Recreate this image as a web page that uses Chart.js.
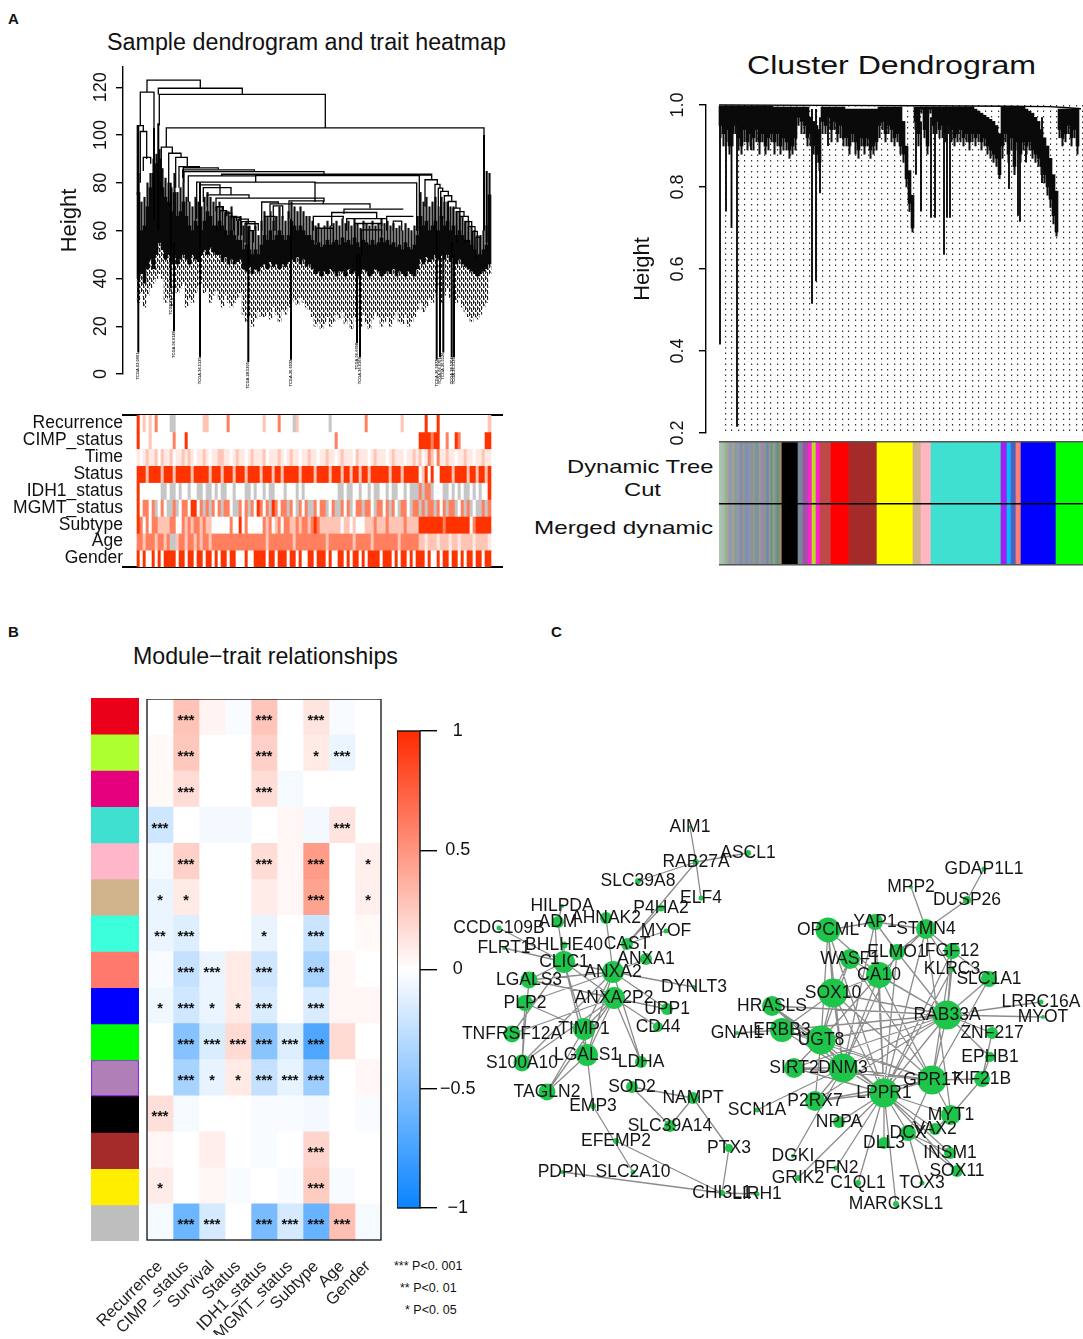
<!DOCTYPE html>
<html>
<head>
<meta charset="utf-8">
<title>WGCNA figure</title>
<script src="https://cdn.jsdelivr.net/npm/chart.js@4/dist/chart.umd.min.js"></script>
<style>
body{margin:0;background:#fff;font-family:"Liberation Sans",Arial,sans-serif;color:#111}
#page{position:relative;width:1083px;height:1339px;overflow:hidden}
canvas{position:absolute}
.t{position:absolute;white-space:nowrap;transform-origin:0 50%;line-height:1}
.letter{font-weight:bold;font-size:15px}
.wide{transform:scaleX(1.25)}
.p{font-size:12.5px}
</style>
</head>
<body>
<div id="page">
<div class="t letter" style="left:8px;top:11px">A</div>
<div class="t letter" style="left:8px;top:624px">B</div>
<div class="t letter" style="left:551px;top:624px">C</div>
<div class="t" style="left:107px;top:31px;font-size:23.3px">Sample dendrogram and trait heatmap</div>
<div class="t" style="left:747px;top:52px;font-size:26px;transform:scaleX(1.235)">Cluster Dendrogram</div>
<div class="t wide" style="left:567px;top:457px;font-size:19px">Dynamic Tree</div>
<div class="t wide" style="left:624px;top:480px;font-size:19px">Cut</div>
<div class="t" style="left:534px;top:518px;font-size:19px;transform:scaleX(1.275)">Merged dynamic</div>
<div class="t" style="left:133px;top:645px;font-size:23.2px">Module−trait relationships</div>
<div class="t p" style="left:394px;top:1260px">*** P&lt;0. 001</div>
<div class="t p" style="left:400px;top:1282px">** P&lt;0. 01</div>
<div class="t p" style="left:405px;top:1304px">* P&lt;0. 05</div>

<canvas id="sampleTree" width="446" height="342" style="left:57px;top:60px"></canvas>
<canvas id="traitStrip" width="503" height="156" style="left:0;top:413px"></canvas>
<canvas id="geneTree" width="453" height="365" style="left:630px;top:85px"></canvas>
<canvas id="geneColors" width="364" height="127" style="left:719px;top:440px"></canvas>
<canvas id="moduleColors" width="48" height="543" style="left:91px;top:698px"></canvas>
<canvas id="moduleHeat" width="385" height="636" style="left:0;top:699px"></canvas>
<canvas id="colorBar" width="113" height="501" style="left:397px;top:719px"></canvas>
<canvas id="network" width="633" height="430" style="left:450px;top:800px"></canvas>
</div>

<script>
// ---- panel A left: sample dendrogram, heights, x in leaf positions
var denseCrown=[84,72,74,80,84,90,92,94,86,82,80,78,84,76,78,80,74,72,70,74,72,70,74,76,74,72,70,72,70,68,68,70,66,64,66,62,64,62,60,62,58,64,68,66,68,64,66,70,66,64,68,72,70,68,70,68,66,66,64,62,63,61,62,64,62,63,64,62,65,63,64,62,65,63,61,64,63,62,64,62,63,65,63,64,62,63,61,62,60,63,61,60,62,66,76,72,74,70,72,74,70,74,72,72,70,70,68,68,66,64,64,62,60,58,58,60,62,84];
var denseTop=[76,60,62,70,78,84,88,90,78,74,72,68,76,66,68,72,66,62,60,64,62,60,64,68,66,62,62,64,62,60,58,60,58,56,56,52,54,52,50,52,50,54,58,56,60,56,58,60,58,56,58,64,62,60,62,60,58,58,56,54,55,53,54,56,54,55,56,54,57,55,56,54,57,55,53,56,55,54,56,54,55,57,55,56,54,55,53,54,52,55,53,52,54,58,66,62,64,60,62,64,60,66,62,64,60,62,58,60,58,56,56,54,52,50,50,52,54,75];
var denseBottom=[40,42,38,44,48,44,50,55,52,48,50,46,50,46,48,50,48,46,50,48,47,50,52,50,53,51,50,50,47,49,46,48,46,47,48,44,43,45,42,44,43,45,46,44,47,45,46,44,46,45,47,48,47,49,46,48,45,46,44,42,43,41,43,42,44,43,41,43,43,41,44,42,43,41,42,44,43,41,42,44,43,41,42,43,42,44,41,43,42,41,43,42,41,44,48,46,49,47,48,50,48,50,48,50,47,49,46,48,46,45,44,43,42,41,42,43,44,46];
var leafBottom=[30,34,28,33,36,38,40,42,40,30,32,28,36,34,36,38,28,32,30,34,36,38,34,36,30,33,35,31,28,33,30,28,30,32,34,25,22,24,20,23,26,24,24,26,23,28,25,22,27,25,28,30,31,29,32,30,28,27,24,20,22,19,21,24,20,22,25,23,26,21,23,19,24,22,20,25,21,19,23,26,24,20,22,24,20,23,26,22,21,25,20,22,24,27,30,26,28,32,30,34,36,30,33,36,32,34,30,32,28,26,24,22,24,23,25,28,30,42];

var mergeLeft =[10,3.3,21.3,22.3,29.3,24.3,31.7,38.7,0.3,3.3,6.3,42,46.3,45.7,47,84.7,51.3,118.7,59.7,178,63,66.3,70.3,79,133,152,124.7,136.3,207,176.3,194.7,209.7,249.7,218,224.7,179.7,256.3,282.3,288,298,301.3,303.7,307.3,311.3,316.3,319.7,323,328,331.3,335.7,339,79.7,83,88,93,96.3,101.3,104.7,108,111.3,128];
var mergeRight=[63.3,17,105.3,188.3,347,35.3,44,50.3,6.3,9.7,13.7,62.3,81.3,117.3,187,294.7,118.7,282.3,178,279.7,83,94,112,187,233,186.3,141.3,145.7,266.3,206.3,239.7,249.7,276.3,244.7,244.7,196.3,264.7,294.7,300.3,303,305.7,311.3,314.7,319,323,327,331.3,334.7,338,340.3,343,86.3,89.7,94.7,99.7,103,111.3,118,121.3,116.3,138];
var mergeHeight=[123,118,119.6,117,103,95,92.4,90.7,104,101.5,90.7,86.8,86.3,85.4,84.7,83.6,82.9,83,80.3,80,79.2,78,75,73.6,71.2,72.5,72,70.4,69,66,67.6,65,66,63,60.3,61,64,83.3,81.3,79.4,77.8,76.4,74.6,72.2,69.4,68,66,63.8,61.7,59.7,57.3,70,68.4,67.3,66,65.6,64.8,63.8,62.9,60,66];
var mergeLowLeft =[118,104,117,104,95,75,70,78,75,80,85,78,80,82,80,83,72,80,65,72,70,72,70,68,68,65,60,60,67,60,62,60,60,55,50,55,60,65,70,60,70,65,65,60,60,55,60,55,55,52,48,60,60,58,58,60,58,58,55,55,58];
var mergeLowRight=[119.6,103,117,103,88,92.4,90.7,86.8,101.5,90,88,86.3,85.8,85,83.6,83,80.6,60,80,60,75,75,73.6,72,69.4,71.5,71,65,69,65,65,60,66,62,58,55,60,81,79,78,76.5,74.7,72,69.5,68,66,63.8,61.7,59.7,57,50,68,66,65,64,64,63,60,60,55,60];

var pendantLeaf  =[1.3,17,21.3,33.7,37,63,111.3,154,220,223,299.7,303,306.3,314.7,317,347,349.7];
var pendantTop   =[104,103,105,80,55,80,62,65,50,50,60,50,50,55,50,100,85];
var pendantBottom=[9,65,60,36,18,7,5,6,13,7,6,7,9,7,7,60,55];
var pendantNames =["TCGA.02.0001","","","TCGA.26.5132","TCGA.06.0189","TCGA.26.5135","TCGA.28.5205","TCGA.26.6032","TCGA.06.6698","TCGA.26.6169","TCGA.26.5872","TCGA.06.6701","TCGA.26.5126","TCGA.28.5204","TCGA.26.5136","",""];

// ---- panel A left: trait rows, 0 white ... 4 red, 5 grey (missing)
var traitNames=["Recurrence","CIMP_status","Time","Status","IDH1_status","MGMT_status","Subtype","Age","Gender"];
var recurrenceRow=[4,0,2,0,2,0,3,0,0,0,0,5,5,0,0,0,0,0,0,0,0,0,2,2,0,0,0,0,0,0,3,0,0,0,0,0,0,0,0,0,0,0,2,0,0,0,0,3,0,0,0,0,5,2,0,0,0,0,0,0,0,0,0,0,5,0,0,0,0,0,0,0,0,0,0,0,3,0,0,0,0,0,0,0,0,0,0,0,2,0,0,0,0,0,0,0,4,0,0,0,4,0,0,0,0,0,0,0,0,0,0,0,0,0,0,0,0,2];
var cimpRow=[4,0,0,0,2,0,0,0,0,0,0,0,3,0,0,0,4,0,0,0,0,0,0,0,0,0,0,0,0,0,0,0,0,0,0,0,0,0,0,0,0,0,0,0,0,0,0,0,0,0,0,0,0,0,0,0,0,0,0,0,0,0,0,0,0,0,3,0,0,0,0,0,0,0,0,0,0,0,0,0,0,0,0,0,0,0,0,0,0,0,0,0,0,0,4,4,4,4,3,4,4,0,0,3,0,0,4,3,0,0,0,0,0,0,0,0,4,4];
var timeRow=[1,0,1,2,1,1,2,0,2,1,1,2,0,1,1,2,1,2,1,0,1,1,2,1,0,1,1,2,2,1,1,0,1,2,1,1,0,1,2,1,1,1,2,0,1,1,1,2,1,0,1,2,1,1,0,1,1,2,1,1,0,1,1,2,1,1,0,1,2,1,1,1,0,2,1,1,1,0,1,2,1,1,1,0,1,2,1,1,1,0,1,1,2,1,2,0,1,3,2,0,3,1,1,2,1,1,0,1,1,2,1,1,0,1,1,2,1,1];
var statusRow=[4,4,4,2,4,4,4,4,2,4,4,4,2,4,4,4,4,4,2,4,4,4,4,4,2,4,4,4,2,4,4,4,2,4,4,4,2,4,4,4,4,2,4,4,4,2,4,4,2,4,4,4,4,4,2,4,4,4,4,2,4,4,4,4,2,4,4,4,2,4,4,2,4,4,2,4,4,2,4,4,4,4,4,4,2,4,4,4,2,4,4,4,4,4,0,2,4,0,4,0,0,4,4,4,4,2,4,4,4,4,2,4,4,2,4,4,2,4];
var idhRow=[4,0,0,0,0,0,0,0,5,5,0,5,5,0,5,0,0,5,0,0,5,5,0,5,5,0,5,0,5,5,0,0,5,0,0,0,5,5,0,5,0,0,5,0,5,5,0,0,0,5,0,0,0,5,0,5,0,0,0,0,0,0,0,0,0,0,0,5,5,0,5,5,0,0,5,0,0,5,0,5,5,0,0,5,0,5,5,0,0,5,0,5,5,5,3,5,3,3,5,0,0,0,5,5,0,5,0,5,0,5,5,0,5,0,5,0,0,4];
var mgmtRow=[4,0,3,3,0,3,5,0,3,0,5,5,3,5,0,3,3,0,4,4,0,3,5,3,5,3,0,3,5,3,3,0,5,5,3,0,3,5,3,0,4,3,0,3,5,4,3,0,3,3,5,3,0,5,3,0,3,5,5,3,0,3,3,5,0,3,5,5,3,0,3,5,0,3,3,5,3,3,0,5,3,3,0,3,5,3,0,5,3,3,0,5,3,3,5,3,5,3,3,5,3,0,3,5,3,3,5,0,3,5,3,5,0,5,5,3,5,3];
var subtypeRow=[4,3,0,3,0,3,3,2,2,2,2,3,3,0,0,3,2,3,2,3,3,2,3,2,2,0,0,0,0,0,0,3,0,0,4,0,3,0,0,0,0,0,3,2,3,0,2,3,0,3,3,2,2,3,2,3,3,2,3,4,3,2,2,2,2,2,2,2,0,2,2,0,2,0,0,0,2,2,2,3,2,2,2,3,2,2,2,2,2,3,2,2,2,2,4,4,4,4,4,4,4,4,3,4,4,4,4,4,4,4,4,0,3,4,4,4,4,4];
var ageRow=[3,3,2,3,3,3,2,3,3,2,3,5,5,2,3,3,2,3,3,2,3,2,3,3,2,3,3,3,3,3,3,3,3,3,3,3,3,3,3,3,3,3,3,2,3,3,3,3,3,3,3,3,2,3,3,3,3,3,3,3,3,3,3,2,3,3,3,3,3,3,3,3,2,3,3,3,3,3,2,3,3,3,3,3,3,3,3,2,3,3,3,3,3,3,2,2,1,2,2,2,1,2,2,2,1,2,2,1,2,2,2,2,1,2,2,2,2,1];
var genderRow=[4,0,4,0,0,4,0,4,0,4,4,4,4,0,4,4,0,4,4,0,4,4,0,4,4,0,4,0,4,4,0,4,4,0,0,0,4,0,0,4,4,4,4,0,4,4,0,4,4,4,0,4,4,0,4,0,0,4,4,0,4,4,4,0,4,0,0,4,4,0,4,0,4,4,0,4,0,4,4,4,4,0,4,4,4,0,4,0,4,4,0,4,0,4,4,4,0,4,0,0,4,0,4,4,0,4,4,0,4,0,4,4,0,4,4,0,4,4];
var levelColors=["#ffffff","#ffe9e2","#ffc4b4","#ff7f5e","#ff3300","#c6c6c6"];

// ---- panel A right: gene dendrogram
var bandTop=[.997,.997,.997,.997,.997,.997,.997,.997,.997,.997,.997,.997,.997,.997,.997,.997,.997,.997,.995,.995,.995,.995,.995,.995,.995,.995,.995,.995,.995,.995,.97,.96,.95,.94,.995,.995,.995,.995,.995,.995,.995,.995,.99,.99,.99,.99,.99,.99,.99,.99,.99,.99,.99,.995,.995,.995,.995,.995,.995,.995,.995,.96,.90,.84,.78,.995,.995,.995,.995,.995,.995,.995,.995,.995,.995,.995,.995,.995,.995,.995,.995,.995,.995,.995,.995,.99,.985,.98,.975,.97,.965,.96,.95,.93,.995,.995,.995,.995,.995,.995,.995,.995,.99,.985,.98,.97,.96,.94,.92,.90,.87,.83,.79,.99,.99,.99,.99,.99,.99,.99];
var bandBottom=[.95,.93,.94,.90,.93,.95,.92,.90,.94,.91,.93,.92,.94,.91,.93,.90,.92,.93,.91,.93,.90,.92,.91,.89,.90,.92,.97,.96,.95,.92,.93,.90,.88,.86,.96,.95,.97,.94,.96,.93,.95,.92,.92,.90,.93,.91,.89,.92,.90,.92,.89,.90,.91,.95,.96,.93,.95,.94,.92,.93,.90,.88,.82,.76,.70,.96,.93,.99,.94,.90,.99,.95,.96,.94,.95,.93,.95,.94,.92,.93,.94,.92,.93,.91,.93,.92,.93,.91,.92,.90,.89,.88,.87,.83,.90,.93,.88,.92,.85,.91,.88,.91,.90,.91,.89,.88,.87,.85,.83,.80,.77,.73,.69,.94,.92,.93,.95,.92,.94,.90];
var bandFringe=[.92,.90,.91,.88,.90,.93,.89,.88,.91,.89,.90,.89,.91,.88,.91,.88,.89,.91,.88,.90,.88,.89,.89,.87,.88,.89,.95,.93,.93,.90,.90,.88,.86,.84,.93,.93,.94,.91,.94,.91,.92,.90,.90,.88,.91,.88,.87,.90,.88,.90,.87,.88,.89,.92,.94,.91,.93,.91,.90,.91,.88,.86,.80,.74,.69,.94,.90,.98,.92,.88,.98,.93,.93,.92,.92,.91,.93,.91,.90,.91,.91,.90,.91,.89,.91,.90,.91,.89,.90,.88,.87,.86,.85,.82,.87,.91,.86,.89,.83,.89,.86,.89,.88,.89,.87,.86,.85,.83,.81,.78,.75,.71,.68,.92,.90,.91,.93,.90,.92,.88];
var dropGene=[1,7,12.5,18,32,93,97,101,109,202,212,197,216,225,228,231,290,299,301,307,323];
var dropTop =[.99,.97,.97,.97,.95,.99,.99,.97,.97,.96,.97,.97,.97,.97,.97,.97,.97,.97,.97,.97,.97];
var dropLow =[.416,.74,.70,.215,.89,.515,.57,.785,.90,.74,.725,.83,.725,.635,.725,.725,.795,.73,.715,.86,.81];
var topGene  =[0,110,200,290,330,345,362];
var topHeight=[1,.999,.998,.997,.996,.994,.991];

// ---- panel A right: module colour strips (edges in gene order)
var rowNames=["Dynamic Tree Cut","Merged dynamic"];
var stripEdges=[0,2,4,6,8,10,12,14,16,18,20,22,24,26,28,30,32,34,36,38,40,42,44,46,48,50,52,54,56,58,60,63,79,84,89,93,97,101,112,130,158,194,202,212,282,288,292,297,302,337,364];
var stripColors=["#b4c2ae","#9cc4ba","#b8b6a2","#84bc96","#aca390","#9c93b4","#84a4b4","#a4a484","#93939f","#84a4a4","#9e84b4","#7494a4","#a49484","#7494b4","#9384c4","#74a494","#a4849f","#84a484","#8c8ca8","#6c98a8","#a49c7c","#8890b8","#a884a8","#7c9c8c","#6c88b0","#9c90a0","#58a070","#a89880","#7c90a8","#4c9c78","#a08868","#000000","#778899","#a050a8","#ff20d0","#b4e020","#ff20d0","#c04848","#ff0000","#a52a2a","#ffff00","#d2b48c","#ffb6c1","#40e0d0","#a020f0","#00bfff","#5060c0","#fa8072","#0000ff","#00ff00"];

// ---- panel B: module-trait correlations, rows top to bottom
var moduleNames=["red","greenyellow","magenta","turquoise","pink","tan","cyan","salmon","blue","green","purple","black","brown","yellow","grey"];
var moduleFill=["#ea0018","#adff2f","#e6007e","#40e0d0","#ffb6c8","#d2b48c","#3cffdc","#ff7a6c","#0000ff","#00ff00","#b07fb8","#000000","#a52a2a","#ffee00","#bebebe"];
var heatTraits=["Recurrence","CIMP_status","Survival","Status","IDH1_status","MGMT_status","Subtype","Age","Gender"];
var recurrenceCorr=[0,.03,.03,-.2,-.04,-.08,-.08,-.03,-.06,0,0,.15,.04,.09,-.04];
var cimpCorr=[.28,.26,.16,0,.22,.1,-.14,-.24,-.19,-.5,-.36,-.04,0,0,-.6];
var survivalCorr=[.05,0,0,-.05,0,0,0,-.08,-.08,-.15,-.1,0,.08,.04,-.17];
var statusCorr=[-.03,0,0,-.05,0,0,0,.1,.1,.17,.1,0,0,-.03,0];
var idhCorr=[.27,.22,.16,0,.16,.09,-.09,-.2,-.15,-.48,-.24,-.03,-.03,0,-.55];
var mgmtCorr=[0,0,-.04,.04,.04,.04,0,0,0,-.14,-.1,-.03,0,-.03,-.17];
var subtypeCorr=[.12,.1,0,-.05,.47,.43,-.22,-.35,-.16,-.72,-.4,-.05,.2,.24,-.62];
var ageCorr=[-.03,-.08,0,.13,0,0,0,.04,.04,.17,0,0,0,-.03,.3];
var genderCorr=[0,0,0,0,.07,.07,.03,0,.04,0,.04,-.03,0,0,-.04];
var recurrenceStars=["","","","***","","*","**","","*","","","***","","*",""];
var cimpStars=["***","***","***","","***","*","***","***","***","***","***","","","","***"];
var survivalStars=["","","","","","","","***","*","***","*","","","","***"];
var statusStars=["","","","","","","","","*","***","*","","","",""];
var idhStars=["***","***","***","","***","","*","***","***","***","***","","","","***"];
var mgmtStars=["","","","","","","","","","***","***","","","","***"];
var subtypeStars=["***","*","","","***","***","***","***","***","***","***","","***","***","***"];
var ageStars=["","***","","***","","","","","","","","","","","***"];
var genderStars=["","","","","*","*","","","","","","","","",""];
var barTicks=[-1,-.5,0,.5,1];

// ---- panel C: co-expression network, layout coordinates
var nodeNames=["AIM1","RAB27A","ASCL1","SLC39A8","ELF4","P4HA2","HILPDA","ADM","AHNAK2","MYOF","CCDC109B","FLRT1","BHLHE40","CAST","ANXA1","CLIC1","ANXA2","LGALS3","DYNLT3","ANXA2P2","PLP2","UPP1","CD44","TNFRSF12A","TIMP1","LGALS1","S100A10","LDHA","TAGLN2","EMP3","SOD2","NAMPT","SLC39A14","EFEMP2","PTX3","PDPN","SLC2A10","CHI3L1","LIRH1",
"GDAP1L1","MPP2","DUSP26","YAP1","OPCML","STMN4","WASF1","ELMO1","FGF12","CA10","KLRC3","SLC1A1","SOX10","HRASLS","LRRC16A","RAB33A","MYOT","GNAI1","ERBB3","ZNF217","UGT8","EPHB1","SIRT2","DNM3","GPR17","KIF21B","LPPR1","P2RX7","SCN1A","NPPA","MYT1","VAX2","DCX","DLL3","INSM1","DGKI","PFN2","SOX11","GRIK2","C1QL1","TOX3","MARCKSL1"];
var nodeX=[690,696,748,638,701,661,562,558,606,666,499,504,564,627,646,564,613,529,694,614,525,667,658,512,584,587,522,641,547,593,632,693,670,616,729,562,633,722,757,
984,911,967,875,828,926,850,897,952,879,952,989,833,772,1041,947,1043,737,782,992,821,990,794,843,932,982,884,815,757,839,951,935,908,884,950,793,836,957,798,858,922,896];
var nodeY=[827,862,853,881,898,908,906,922,918,931,928,948,945,944,959,962,972,980,987,998,1003,1009,1027,1034,1029,1055,1063,1062,1092,1106,1087,1098,1126,1141,1148,1172,1172,1193,1194,
869,887,900,922,930,929,959,952,951,975,969,979,993,1006,1002,1015,1017,1033,1030,1033,1040,1057,1068,1068,1080,1079,1093,1101,1110,1122,1115,1129,1133,1143,1153,1156,1168,1171,1178,1183,1183,1204];
var nodeSize=[1.5,3,3,3,2.5,3.5,2,6,6,2.5,2.5,2,3.5,6,6,11,11,8.5,2,11,8,6,5,8.5,11,11,8.5,6,8.5,3,6,6,6,3,4,2,2.5,3,2.5,
2.5,2,4,8,12.5,10,10,8,8,13,3,8,14.5,10,2.5,14.5,2,2,12,6,14.5,5,10,14.5,14.5,8,14.5,10,2.5,6,10,6,8,6,6,2,2.5,6,3,3,2.5,3];
var edgeFrom=["AIM1","RAB27A","RAB27A","RAB27A","RAB27A","P4HA2","MYOF","CAST","AHNAK2","ADM","HILPDA","CCDC109B","FLRT1","BHLHE40","CLIC1","CLIC1","CLIC1","CLIC1","CLIC1","CLIC1","LGALS3","LGALS3","LGALS3","PLP2","PLP2","PLP2","TNFRSF12A","TIMP1","TIMP1","LGALS1","LGALS1","LGALS1","S100A10","S100A10","TAGLN2","TAGLN2","TAGLN2","ANXA1","ANXA2","ANXA2","ANXA2P2","ANXA2P2","ANXA2P2","ANXA2","EMP3","EMP3","EFEMP2","PDPN","SOD2","SOD2","SLC39A14","NAMPT","PTX3","CHI3L1",
"MPP2","GDAP1L1","DUSP26","YAP1","OPCML","YAP1","STMN4","STMN4","STMN4","STMN4","FGF12","FGF12","ELMO1","WASF1","KLRC3","SLC1A1","SLC1A1","LRRC16A","MYOT","ZNF217","EPHB1","EPHB1","KIF21B","OPCML","OPCML","OPCML","OPCML","OPCML","WASF1","WASF1","WASF1","CA10","CA10","CA10","CA10","CA10","CA10","SOX10","SOX10","SOX10","SOX10","SOX10","SOX10","HRASLS","HRASLS","HRASLS","HRASLS","ERBB3","ERBB3","ERBB3","ERBB3","ERBB3","GNAI1","UGT8","UGT8","UGT8","UGT8","UGT8","UGT8","SIRT2","SIRT2","SIRT2","DNM3","DNM3","DNM3","DNM3","DNM3","RAB33A","RAB33A","GPR17","GPR17","GPR17","P2RX7","NPPA","DGKI","PFN2","GRIK2","C1QL1","DLL3","MARCKSL1","DCX","TOX3","VAX2","VAX2","MYT1","MYT1","INSM1","INSM1","SOX11","SOX11","YAP1","ELMO1","ELMO1","FGF12","FGF12","KLRC3","STMN4","STMN4","ZNF217","P2RX7","SIRT2","P2RX7","YAP1"];
var edgeTo=["RAB27A","ELF4","ASCL1","SLC39A8","CAST","CAST","CAST","ANXA2","ANXA2","CLIC1","ADM","CLIC1","CLIC1","CLIC1","ANXA2","ANXA2P2","TIMP1","LGALS1","LGALS3","TNFRSF12A","ANXA2","ANXA2P2","S100A10","ANXA2","TIMP1","S100A10","ANXA2P2","ANXA2","ANXA2P2","ANXA2","ANXA2P2","TIMP1","ANXA2P2","ANXA2","LGALS1","ANXA2P2","TIMP1","ANXA2","DYNLT3","UPP1","CD44","UPP1","LDHA","LDHA","LGALS1","SLC2A10","CHI3L1","CHI3L1","NAMPT","SLC39A14","NAMPT","PTX3","CHI3L1","LIRH1",
"STMN4","DUSP26","STMN4","STMN4","YAP1","ELMO1","ELMO1","CA10","FGF12","KLRC3","RAB33A","SLC1A1","RAB33A","RAB33A","RAB33A","RAB33A","GPR17","RAB33A","RAB33A","RAB33A","RAB33A","KIF21B","GPR17","SOX10","UGT8","DNM3","CA10","LPPR1","SOX10","UGT8","GPR17","RAB33A","GPR17","LPPR1","DNM3","UGT8","SOX10","RAB33A","GPR17","LPPR1","DNM3","UGT8","ERBB3","UGT8","DNM3","RAB33A","LPPR1","UGT8","RAB33A","DNM3","LPPR1","GPR17","ERBB3","RAB33A","GPR17","LPPR1","DNM3","P2RX7","SIRT2","DNM3","LPPR1","RAB33A","RAB33A","GPR17","LPPR1","P2RX7","SCN1A","LPPR1","GPR17","LPPR1","MYT1","DCX","LPPR1","LPPR1","DNM3","LPPR1","LPPR1","LPPR1","LPPR1","LPPR1","LPPR1","DCX","LPPR1","MYT1","LPPR1","KIF21B","DCX","LPPR1","LPPR1","DCX","DNM3","LPPR1","DNM3","LPPR1","GPR17","LPPR1","LPPR1","MYT1","KIF21B","RAB33A","GPR17","GPR17","LPPR1"];

// ---- helpers
var FONT="'Liberation Sans',Arial,sans-serif";
Chart.defaults.font.family=FONT;
Chart.defaults.color="#111";
Chart.defaults.animation=false;
Chart.defaults.responsive=false;
Chart.defaults.layout.autoPadding=false;
Chart.defaults.plugins.legend.display=false;
Chart.defaults.plugins.tooltip.enabled=false;

function brokenPath(pieces){
  var pts=[];
  pieces.forEach(function(p){
    p.forEach(function(q){pts.push({x:q[0],y:q[1]});});
    pts.push({x:p[0][0],y:null});
  });
  return pts;
}
function mix(hex,t){
  var r=parseInt(hex.substr(1,2),16),g=parseInt(hex.substr(3,2),16),b=parseInt(hex.substr(5,2),16);
  return "rgb("+Math.round(255+(r-255)*t)+","+Math.round(255+(g-255)*t)+","+Math.round(255+(b-255)*t)+")";
}
function corrColor(v){return v>=0?mix("#ff2a00",v):mix("#0a84ff",-v);}
var framePlugin={id:"frame",afterDatasetsDraw:function(chart,args,opts){
  var a=chart.chartArea,c=chart.ctx;
  c.save();c.strokeStyle=opts.color||"#222";c.lineWidth=opts.width||1.4;
  c.strokeRect(a.left,a.top,a.right-a.left,a.bottom-a.top);c.restore();
}};
// y axis of a fixed width, no room reserved for half a tick label
function fixedY(width){
  return function(s){s.width=width;s.paddingTop=0;s.paddingBottom=0;};
}

function rAxis(title,width,pad,min,max,step){
  return {
    min:min,max:max,
    afterFit:fixedY(width),
    border:{display:true,color:"#000",width:1.4},
    grid:{drawOnChartArea:false,drawTicks:true,tickLength:7,color:"#000",lineWidth:1.4},
    ticks:{stepSize:step,includeBounds:false,minRotation:90,maxRotation:90,crossAlign:"center",padding:pad,font:{size:18},color:"#111"},
    title:{display:true,text:title,font:{size:22},color:"#111",padding:0}
  };
}

// ---- sample dendrogram
var speckle=document.createElement("canvas");
speckle.width=4;speckle.height=6;
(function(){
  var s=speckle.getContext("2d");
  s.fillStyle="#fff";s.fillRect(0,0,4,6);
  s.fillStyle="#222";s.fillRect(0,0,1,4);s.fillRect(2,2,1,4);
  s.fillStyle="#888";s.fillRect(1,1,1,2);s.fillRect(3,4,1,2);
})();
var speckleFill=document.createElement("canvas").getContext("2d").createPattern(speckle,"repeat");

var treePieces=mergeLeft.map(function(l,i){
  return [[l,mergeLowLeft[i]],[l,mergeHeight[i]],[mergeRight[i],mergeHeight[i]],[mergeRight[i],mergeLowRight[i]]];
});
var denseLeaf=denseTop.map(function(v,i){return i*3+1.5;});
var pendantPlugin={id:"leafNames",afterDatasetsDraw:function(chart){
  var c=chart.ctx,xs=chart.scales.x,ys=chart.scales.y;
  c.save();c.fillStyle="#222";c.font="bold 4px "+FONT;c.textAlign="right";c.textBaseline="middle";
  pendantNames.forEach(function(n,i){
    if(!n)return;
    c.save();c.translate(xs.getPixelForValue(pendantLeaf[i]),ys.getPixelForValue(pendantBottom[i]));
    c.rotate(-Math.PI/2);c.fillText(n,0,0);c.restore();
  });
  c.restore();
}};
new Chart(document.getElementById("sampleTree"),{
  type:"bar",
  data:{datasets:[
    {data:denseLeaf.map(function(x,i){return {x:x,y:[leafBottom[i],denseBottom[i]]};}),backgroundColor:speckleFill,barThickness:3,clip:false,grouped:false,order:3},
    {data:denseLeaf.map(function(x,i){return {x:x,y:[denseBottom[i],denseTop[i]]};}),backgroundColor:"#0a0a0a",barThickness:3,clip:false,grouped:false,order:2},
    {data:denseLeaf.map(function(x,i){return {x:x,y:[denseTop[i],denseCrown[i]]};}),backgroundColor:"#111",barThickness:1.5,clip:false,grouped:false,order:2},
    {type:"scatter",data:brokenPath(treePieces),showLine:true,pointRadius:0,borderColor:"#000",borderWidth:1.3,clip:false,order:1},
    {type:"scatter",data:brokenPath(pendantLeaf.map(function(x,i){return [[x,pendantTop[i]],[x,pendantBottom[i]]];})),showLine:true,pointRadius:0,borderColor:"#000",borderWidth:2,clip:false,order:1}
  ]},
  options:{
    layout:{padding:{top:7,bottom:28}},
    scales:{
      x:{type:"linear",display:false,offset:false,min:-14,max:366},
      y:rAxis("Height",66,0,0,128.5,20)
    }
  },
  plugins:[pendantPlugin]
});

// ---- trait strips
var traitRows=[recurrenceRow,cimpRow,timeRow,statusRow,idhRow,mgmtRow,subtypeRow,ageRow,genderRow];
new Chart(document.getElementById("traitStrip"),{
  type:"bar",
  data:{labels:traitNames,datasets:traitRows.map(function(row,k){
    return {
      data:row.map(function(v,i){return {y:traitNames[k],x:[i*3,i*3+3]};}),
      backgroundColor:row.map(function(v){return levelColors[v];}),
      grouped:false,barPercentage:1,categoryPercentage:1
    };
  })},
  options:{
    indexAxis:"y",
    layout:{padding:{top:2,bottom:2}},
    scales:{
      x:{type:"linear",min:-14,max:366,position:"bottom",border:{display:true,color:"#000",width:2},grid:{display:false,drawTicks:false},ticks:{display:false}},
      x2:{type:"linear",min:-14,max:366,position:"top",border:{display:true,color:"#000",width:2},grid:{display:false,drawTicks:false},ticks:{display:false}},
      y:{type:"category",afterFit:fixedY(123),border:{display:false},grid:{display:false,drawTicks:false},ticks:{font:{size:17.5},padding:0,color:"#111",autoSkip:false}}
    }
  }
});

// ---- gene dendrogram
var geneCols=bandTop.map(function(v,i){return i*3+1.5;});
new Chart(document.getElementById("geneTree"),{
  type:"bar",
  data:{datasets:[
    {data:geneCols.map(function(x,i){return {x:x,y:[bandBottom[i],bandTop[i]]};}),backgroundColor:"#0a0a0a",barThickness:3,clip:false,grouped:false},
    {data:geneCols.map(function(x,i){return {x:x,y:[bandFringe[i],bandBottom[i]]};}),backgroundColor:"#111",barThickness:1.4,clip:false,grouped:false},
    {type:"scatter",data:brokenPath(dropGene.map(function(x,i){return [[x,dropTop[i]],[x,dropLow[i]]];})),showLine:true,pointRadius:0,borderColor:"#000",borderWidth:1.8,clip:false},
    {type:"scatter",data:topGene.map(function(x,i){return {x:x,y:topHeight[i]};}),showLine:true,pointRadius:0,borderColor:"#000",borderWidth:1.4,clip:false}
  ]},
  options:{
    layout:{padding:{top:20,bottom:17}},
    scales:{
      x:{type:"linear",min:-13,max:364,offset:false,border:{display:false,dash:[1.4,4.1]},
         grid:{offset:false,drawTicks:false,color:function(c){return c.tick&&c.tick.value<6?"rgba(0,0,0,0)":"#333";},lineWidth:1.2},
         ticks:{display:false,stepSize:6.5}},
      y:rAxis("Height",76,8,.2,1,.2)
    }
  }
});

// ---- module colour strips
new Chart(document.getElementById("geneColors"),{
  type:"bar",
  data:{labels:rowNames,datasets:rowNames.map(function(n){
    return {
      data:stripColors.map(function(c,i){return {y:n,x:[stripEdges[i],stripEdges[i+1]]};}),
      backgroundColor:stripColors,grouped:false,barPercentage:1,categoryPercentage:1
    };
  })},
  options:{
    indexAxis:"y",
    layout:{padding:{top:2,bottom:2}},
    scales:{
      x:{type:"linear",min:0,max:364,display:false},
      y:{type:"category",border:{display:false},
         grid:{z:1,drawTicks:false,offset:true,color:function(c){return c.index==1?"#000":"#555";},lineWidth:1.6},
         ticks:{display:false}}
    }
  }
});

// ---- panel B heat map
var modulePos=moduleNames.map(function(n,i){return [14-i,15-i];});
new Chart(document.getElementById("moduleColors"),{
  type:"bar",
  data:{labels:["module"],datasets:moduleNames.map(function(n,i){
    return {data:[{x:"module",y:modulePos[i]}],backgroundColor:moduleFill[i],
      borderColor:n=="purple"?"#8a2be2":moduleFill[i],borderWidth:n=="purple"?1.5:0,borderSkipped:false,
      grouped:false,barPercentage:1,categoryPercentage:1};
  })},
  options:{scales:{x:{display:false},y:{display:false,min:0,max:15}}}
});

var traitCorr=[recurrenceCorr,cimpCorr,survivalCorr,statusCorr,idhCorr,mgmtCorr,subtypeCorr,ageCorr,genderCorr];
var traitStars=[recurrenceStars,cimpStars,survivalStars,statusStars,idhStars,mgmtStars,subtypeStars,ageStars,genderStars];
var starPlugin={id:"stars",afterDatasetsDraw:function(chart){
  var c=chart.ctx;
  c.save();c.fillStyle="#111";c.font="bold 14.5px "+FONT;c.textAlign="center";c.textBaseline="middle";
  traitStars.forEach(function(col,k){
    var meta=chart.getDatasetMeta(k);
    col.forEach(function(s,i){
      if(s){var el=meta.data[i];c.fillText(s,el.x,el.y+(el.base-el.y)/2+3.5);}
    });
  });
  c.restore();
}};
new Chart(document.getElementById("moduleHeat"),{
  type:"bar",
  data:{labels:heatTraits,datasets:traitCorr.map(function(col,k){
    return {
      data:col.map(function(v,i){return {x:heatTraits[k],y:modulePos[i]};}),
      backgroundColor:col.map(corrColor),
      grouped:false,barPercentage:1,categoryPercentage:1
    };
  })},
  options:{
    layout:{padding:{left:147,right:4}},
    scales:{
      x:{type:"category",afterFit:function(s){s.height=95;s.paddingLeft=0;s.paddingRight=0;},border:{display:false},grid:{display:false,drawTicks:false},
         ticks:{minRotation:45,maxRotation:45,padding:17,autoSkip:false,font:{size:16.5},color:"#222"}},
      y:{display:false,min:0,max:15}
    },
    plugins:{frame:{color:"#222",width:1.4}}
  },
  plugins:[framePlugin,starPlugin]
});

// ---- colour bar
new Chart(document.getElementById("colorBar"),{
  type:"bar",
  data:{labels:["corr"],datasets:[{
    data:[[-1,1]],
    backgroundColor:function(ctx){
      var a=ctx.chart.chartArea;
      if(!a)return "#fff";
      var g=ctx.chart.ctx.createLinearGradient(0,a.top,0,a.bottom);
      g.addColorStop(0,corrColor(1));g.addColorStop(.5,corrColor(0));g.addColorStop(1,corrColor(-1));
      return g;
    },
    barPercentage:1,categoryPercentage:1
  }]},
  options:{
    layout:{padding:{top:12,bottom:12}},
    scales:{
      x:{display:false},
      y:{position:"right",min:-1,max:1,
         afterBuildTicks:function(s){s.ticks=barTicks.map(function(v){return {value:v};});},
         afterFit:fixedY(90),
         border:{display:false},
         grid:{drawOnChartArea:false,drawTicks:true,tickLength:17,color:"#000",lineWidth:1.4},
         ticks:{crossAlign:"center",padding:3,font:{size:18},color:"#111",callback:function(v){return String(v).replace("-","\u2212");}}}
    },
    plugins:{frame:{color:"#111",width:1.4}}
  },
  plugins:[framePlugin]
});

// ---- network
var nodeIndex={};
nodeNames.forEach(function(n,i){nodeIndex[n]=i;});
var edgePieces=edgeFrom.map(function(f,i){
  var a=nodeIndex[f],b=nodeIndex[edgeTo[i]];
  return [[nodeX[a],nodeY[a]],[nodeX[b],nodeY[b]]];
});
var nodeLabelPlugin={id:"nodeLabels",afterDatasetsDraw:function(chart){
  var c=chart.ctx,meta=chart.getDatasetMeta(1);
  c.save();c.fillStyle="#151515";c.font="17.5px "+FONT;c.textAlign="center";c.textBaseline="middle";
  nodeNames.forEach(function(n,i){c.fillText(n,meta.data[i].x,meta.data[i].y);});
  c.restore();
}};
new Chart(document.getElementById("network"),{
  type:"bubble",
  data:{datasets:[
    {type:"scatter",data:brokenPath(edgePieces),showLine:true,pointRadius:0,borderColor:"#8c8c8c",borderWidth:1.3,order:2},
    {data:nodeNames.map(function(n,i){return {x:nodeX[i],y:nodeY[i],r:nodeSize[i]};}),backgroundColor:"#1fc44b",borderWidth:0,order:1}
  ]},
  options:{
    scales:{
      x:{type:"linear",display:false,min:450,max:1083},
      y:{type:"linear",display:false,min:800,max:1230,reverse:true}
    }
  },
  plugins:[nodeLabelPlugin]
});
</script>
</body>
</html>
